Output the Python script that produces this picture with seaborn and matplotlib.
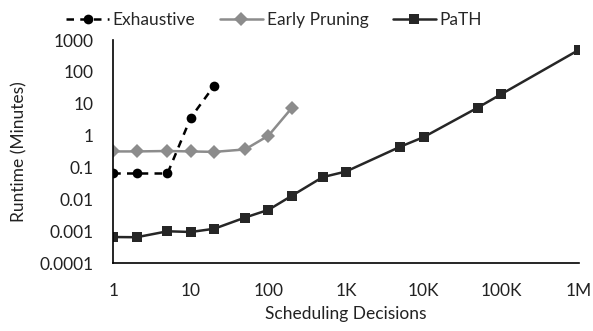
import numpy as np
import pandas as pd
import seaborn as sns
import matplotlib.pyplot as plt
from matplotlib.ticker import FixedLocator, NullLocator

# data
exh_x = [1, 2, 5, 10, 20]
exh_y = [0.065, 0.065, 0.065, 3.7, 37]
ep_x = [1, 2, 5, 10, 20, 50, 100, 200]
ep_y = [0.32, 0.32, 0.33, 0.32, 0.31, 0.37, 1.0, 7.4]
path_x = [1, 2, 5, 10, 20, 50, 100, 200, 500, 1000, 5000, 10000, 50000, 100000, 1000000]
path_y = [0.00066, 0.00065, 0.001, 0.00095, 0.0012, 0.0027, 0.0047, 0.013,
          0.05, 0.075, 0.45, 0.9, 7.6, 20, 490]

xticks = [1, 10, 100, 1e3, 1e4, 1e5, 1e6]
xticklabels = ['1', '10', '100', '1K', '10K', '100K', '1M']
yticks = [1e-4, 1e-3, 1e-2, 1e-1, 1, 10, 100, 1000]
yticklabels = ['0.0001', '0.001', '0.01', '0.1', '1', '10', '100', '1000']

df = pd.concat([
    pd.DataFrame({'x': exh_x, 'y': exh_y, 'method': 'Exhaustive'}),
    pd.DataFrame({'x': ep_x, 'y': ep_y, 'method': 'Early Pruning'}),
    pd.DataFrame({'x': path_x, 'y': path_y, 'method': 'PaTH'}),
])

sns.set_style('white')
plt.rcParams['font.family'] = ['Lato', 'DejaVu Sans']

fig = plt.figure(figsize=(5.93, 3.31), dpi=100)
ax = fig.add_axes([0.191, 0.205, 0.785, 0.674])

sns.lineplot(data=df, x='x', y='y', hue='method', style='method',
             palette={'Exhaustive': 'black', 'Early Pruning': '#8c8c8c', 'PaTH': '#262626'},
             markers={'Exhaustive': 'o', 'Early Pruning': 'D', 'PaTH': 's'},
             dashes={'Exhaustive': (3, 2.5), 'Early Pruning': '', 'PaTH': ''},
             markersize=7, linewidth=1.8, markeredgewidth=0, ax=ax)

ax.set_xscale('log')
ax.set_yscale('log')
ax.set_xlim(1, 1e6)
ax.set_ylim(1e-4, 1e3)
ax.xaxis.set_major_locator(FixedLocator(xticks))
ax.yaxis.set_major_locator(FixedLocator(yticks))
ax.xaxis.set_minor_locator(NullLocator())
ax.yaxis.set_minor_locator(NullLocator())
ax.set_xticklabels(xticklabels)
ax.set_yticklabels(yticklabels)
ax.tick_params(axis='both', which='major', direction='out', length=5, width=1.2,
               color='black', labelsize=12.5, labelcolor='#222222', pad=9)
ax.tick_params(axis='x', pad=9)
for s in ['top', 'right']:
    ax.spines[s].set_visible(False)
for s in ['left', 'bottom']:
    ax.spines[s].set_color('black')
    ax.spines[s].set_linewidth(1.2)
ax.set_xlabel('Scheduling Decisions', fontsize=12.5, color='#222222', labelpad=5)
ax.set_ylabel('Runtime (Minutes)', fontsize=12.5, color='#222222', labelpad=9)

handles, labels = ax.get_legend_handles_labels()
ax.legend(handles, labels, loc='upper center', bbox_to_anchor=(0.462, 1.01),
          bbox_transform=fig.transFigure, ncol=3, frameon=False,
          fontsize=12.5, handlelength=2.5, columnspacing=1.4, handletextpad=0.2)

fig.savefig('out.png', dpi=100)
